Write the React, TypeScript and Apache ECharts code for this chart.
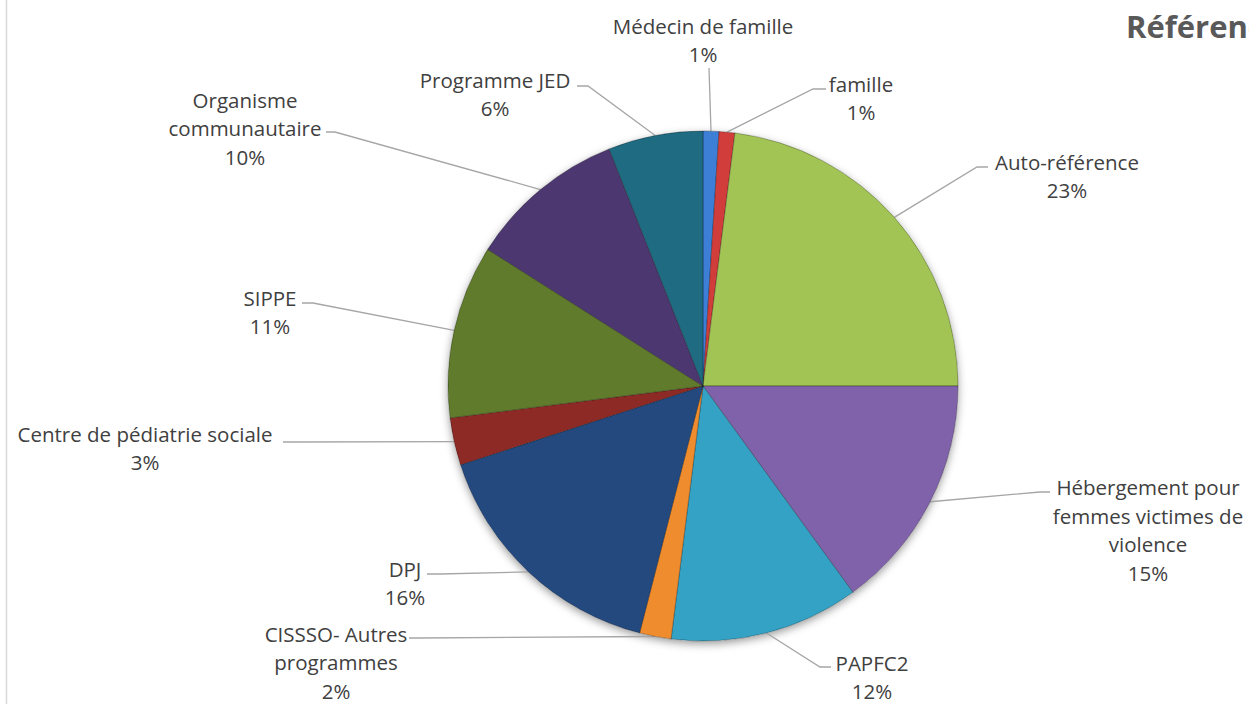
import React, { useEffect, useRef } from "react";
import * as echarts from "echarts";

// ---- data ----
const categories = [
  "Médecin de famille",
  "famille",
  "Auto-référence",
  "Hébergement pour\nfemmes victimes de\nviolence",
  "PAPFC2",
  "CISSSO- Autres\nprogrammes",
  "DPJ",
  "Centre de pédiatrie sociale",
  "SIPPE",
  "Organisme\ncommunautaire",
  "Programme JED",
];
const values = [1, 1, 23, 15, 12, 2, 16, 3, 11, 10, 6];
const colors = [
  "#3d7fd6",
  "#d13d3a",
  "#a2c455",
  "#8062aa",
  "#33a2c4",
  "#ef8c2e",
  "#24497e",
  "#8e2a26",
  "#5f7b2b",
  "#4c3770",
  "#1e6b82",
];
const titleText = "Référence";

// ---- layout (label block centres, leader-line bend point & end x) ----
const labelAnchors: [number, number][] = [
  [703, 40],
  [861, 98],
  [1067, 176],
  [1148, 530],
  [872, 677],
  [336, 662],
  [405, 583],
  [145, 448],
  [270, 312],
  [245, 128],
  [495, 94],
];
const lineBends: [number, number, number][] = [
  [709, 68, 709],
  [813, 89, 826],
  [977, 167, 988],
  [1040, 492, 1050],
  [820, 667, 831],
  [420, 638, 409],
  [440, 574, 427],
  [295, 442, 283],
  [313, 303, 302],
  [335, 132, 326],
  [588, 86, 577],
];

export default function App() {
  const ref = useRef<HTMLDivElement>(null);
  useEffect(() => {
    document.body.style.margin = "0";
    const chart = echarts.init(ref.current!, undefined, { renderer: "svg" });
    chart.setOption({
      animation: false,
      backgroundColor: "#ffffff",
      title: {
        text: titleText,
        left: 1121,
        top: 5,
        textStyle: {
          fontFamily: "Open Sans",
          fontWeight: "bold",
          fontSize: 31,
          color: "#595959",
        },
      },
      graphic: [
        {
          type: "line",
          shape: { x1: 6.5, y1: 0, x2: 6.5, y2: 704 },
          style: { stroke: "#d9d9d9", lineWidth: 1.5 },
          silent: true,
        },
      ],
      series: [
        {
          type: "pie",
          center: [703, 386],
          radius: 255,
          startAngle: 90,
          clockwise: true,
          percentPrecision: 0,
          avoidLabelOverlap: false,
          z: 2,
          data: categories.map((name, i) => ({
            name,
            value: values[i],
            itemStyle: { color: colors[i] },
          })),
          itemStyle: {
            borderColor: "rgba(0,0,0,0.28)",
            borderWidth: 1,
          },
          label: {
            show: true,
            formatter: "{b}\n{d}%",
            fontFamily: "Open Sans",
            fontSize: 20.5,
            lineHeight: 28.5,
            color: "#404040",
            overflow: "none",
          },
          labelLine: {
            show: true,
            lineStyle: { color: "#a6a6a6", width: 1.3 },
          },
          labelLayout: (p: any) => {
            const i = p.dataIndex;
            const a = labelAnchors[i];
            const b = lineBends[i];
            const start =
              p.labelLinePoints && p.labelLinePoints[0]
                ? p.labelLinePoints[0]
                : [b[0], b[1]];
            return {
              x: a[0],
              y: a[1],
              align: "center",
              verticalAlign: "middle",
              labelLinePoints: [start, [b[0], b[1]], [b[2], b[1]]],
            };
          },
          emphasis: { disabled: true },
        },
        {
          type: "pie",
          center: [703, 386],
          radius: 255,
          silent: true,
          z: 1,
          label: { show: false },
          labelLine: { show: false },
          data: [{ value: 1, name: "" }],
          itemStyle: {
            color: "#ffffff",
            shadowBlur: 8,
            shadowOffsetY: 3,
            shadowColor: "rgba(0,0,0,0.4)",
          },
          emphasis: { disabled: true },
        },
      ],
    });
    return () => chart.dispose();
  }, []);
  return <div ref={ref} style={{ width: 1249, height: 704 }} />;
}
